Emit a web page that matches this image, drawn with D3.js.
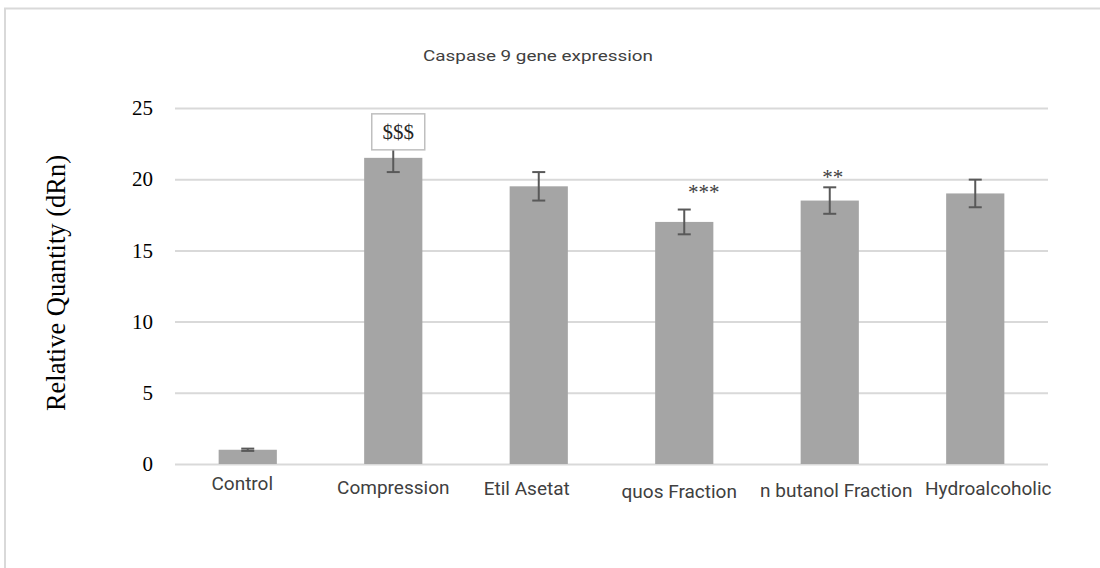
<!DOCTYPE html>
<html>
<head>
<meta charset="utf-8">
<script src="https://cdn.jsdelivr.net/npm/d3@7"></script>
<style>
  html, body { margin: 0; padding: 0; background: #ffffff; }
  svg { display: block; }
</style>
</head>
<body>
<svg id="chart" width="1100" height="568"></svg>
<script>
// Caspase 9 relative expression per treatment group
const categories = ["Control", "Compression", "Etil Asetat", "quos Fraction", "n butanol Fraction", "Hydroalcoholic"];
const means = [1, 21.5, 19.5, 17, 18.5, 19];
const errors = [0.08, 1.0, 1.0, 0.87, 0.93, 0.97];
const yTicks = [0, 5, 10, 15, 20, 25];
const marks = [
  { category: "Compression", text: "$$$", boxed: true },
  { category: "quos Fraction", text: "***", boxed: false },
  { category: "n butanol Fraction", text: "**", boxed: false }
];

const W = 1100, H = 568;
const plot = { left: 175, right: 1048, top: 108, bottom: 464 };

const svg = d3.select("#chart");

// frame of the chart area
svg.append("path")
  .attr("d", `M5,${H} L5,8.5 L${W},8.5`)
  .attr("fill", "none")
  .attr("stroke", "#d9d9d9")
  .attr("stroke-width", 2);

const x = d3.scaleBand()
  .domain(categories)
  .range([plot.left, plot.right])
  .paddingInner(0.6)
  .paddingOuter(0.3);

const y = d3.scaleLinear()
  .domain([0, 25])
  .range([plot.bottom, plot.top]);

// title
svg.append("text")
  .attr("x", 538)
  .attr("y", 61)
  .attr("text-anchor", "middle")
  .attr("font-family", "Roboto, 'Open Sans', sans-serif")
  .attr("font-size", 15.5)
  .attr("fill", "#404040")
  .attr("textLength", 230)
  .attr("lengthAdjust", "spacingAndGlyphs")
  .text("Caspase 9 gene expression");

// horizontal gridlines
const grid = svg.append("g")
  .attr("transform", `translate(${plot.left},0)`)
  .call(d3.axisLeft(y).tickValues(yTicks).tickSize(-(plot.right - plot.left)).tickFormat(""));
grid.select(".domain").remove();
grid.selectAll("line").attr("stroke", "#d9d9d9").attr("stroke-width", 2);

// y axis tick labels
const yAxis = svg.append("g")
  .attr("transform", `translate(${plot.left},0)`)
  .call(d3.axisLeft(y).tickValues(yTicks).tickSize(0).tickPadding(22));
yAxis.select(".domain").remove();
yAxis.selectAll("text")
  .attr("font-family", "'Liberation Serif', 'Times New Roman', serif")
  .attr("font-size", 21)
  .attr("fill", "#000000");

// y axis title
svg.append("text")
  .attr("transform", "translate(65,283) rotate(-90)")
  .attr("text-anchor", "middle")
  .attr("font-family", "'Liberation Serif', 'Times New Roman', serif")
  .attr("font-size", 26.5)
  .attr("fill", "#000000")
  .text("Relative Quantity (dRn)");

// bars
svg.append("g")
  .selectAll("rect")
  .data(categories)
  .join("rect")
  .attr("x", d => x(d))
  .attr("width", x.bandwidth())
  .attr("y", (d, i) => y(means[i]))
  .attr("height", (d, i) => y(0) - y(means[i]))
  .attr("fill", "#a5a5a5");

// error bars
const capHalf = 6.5;
const eb = svg.append("g")
  .attr("stroke", "#595959")
  .attr("stroke-width", 2)
  .attr("fill", "none");
categories.forEach((c, i) => {
  const cx = x(c) + x.bandwidth() / 2;
  const lo = y(means[i] - errors[i]);
  const hi = y(means[i] + errors[i]);
  eb.append("line").attr("x1", cx).attr("x2", cx).attr("y1", lo).attr("y2", hi);
  eb.append("line").attr("x1", cx - capHalf).attr("x2", cx + capHalf).attr("y1", lo).attr("y2", lo);
  eb.append("line").attr("x1", cx - capHalf).attr("x2", cx + capHalf).attr("y1", hi).attr("y2", hi);
});

// category labels (Excel nudges overflowing labels sideways / down)
const labelShift = [[-5.5, 490], [0, 494], [-12, 495], [-5, 498], [6.5, 497], [13, 495]];
svg.append("g")
  .selectAll("text")
  .data(categories)
  .join("text")
  .attr("x", (d, i) => x(d) + x.bandwidth() / 2 + labelShift[i][0])
  .attr("y", (d, i) => labelShift[i][1])
  .attr("text-anchor", "middle")
  .attr("font-family", "Roboto, 'Open Sans', sans-serif")
  .attr("font-size", 19)
  .attr("fill", "#404040")
  .text(d => d);

// significance marks
marks.forEach(m => {
  const i = categories.indexOf(m.category);
  const cx = x(m.category) + x.bandwidth() / 2;
  if (m.boxed) {
    const bx = cx + 5, bottom = y(means[i]) - 8;
    svg.append("rect")
      .attr("x", bx - 26.5).attr("y", bottom - 36)
      .attr("width", 53).attr("height", 36)
      .attr("fill", "#ffffff")
      .attr("stroke", "#bfbfbf")
      .attr("stroke-width", 1.5);
    svg.append("text")
      .attr("x", bx).attr("y", bottom - 11)
      .attr("text-anchor", "middle")
      .attr("font-family", "'Liberation Serif', 'Times New Roman', serif")
      .attr("font-size", 21)
      .attr("fill", "#262626")
      .text(m.text);
  } else {
    const top = y(means[i] + errors[i]);
    const dx = m.text.length === 3 ? 19.5 : 3;
    const dy = m.text.length === 3 ? -10.5 : -3;
    svg.append("text")
      .attr("x", cx + dx).attr("y", top + dy)
      .attr("text-anchor", "middle")
      .attr("font-family", "'Liberation Serif', 'Times New Roman', serif")
      .attr("font-size", 21)
      .attr("fill", "#404040")
      .text(m.text);
  }
});
</script>
</body>
</html>
